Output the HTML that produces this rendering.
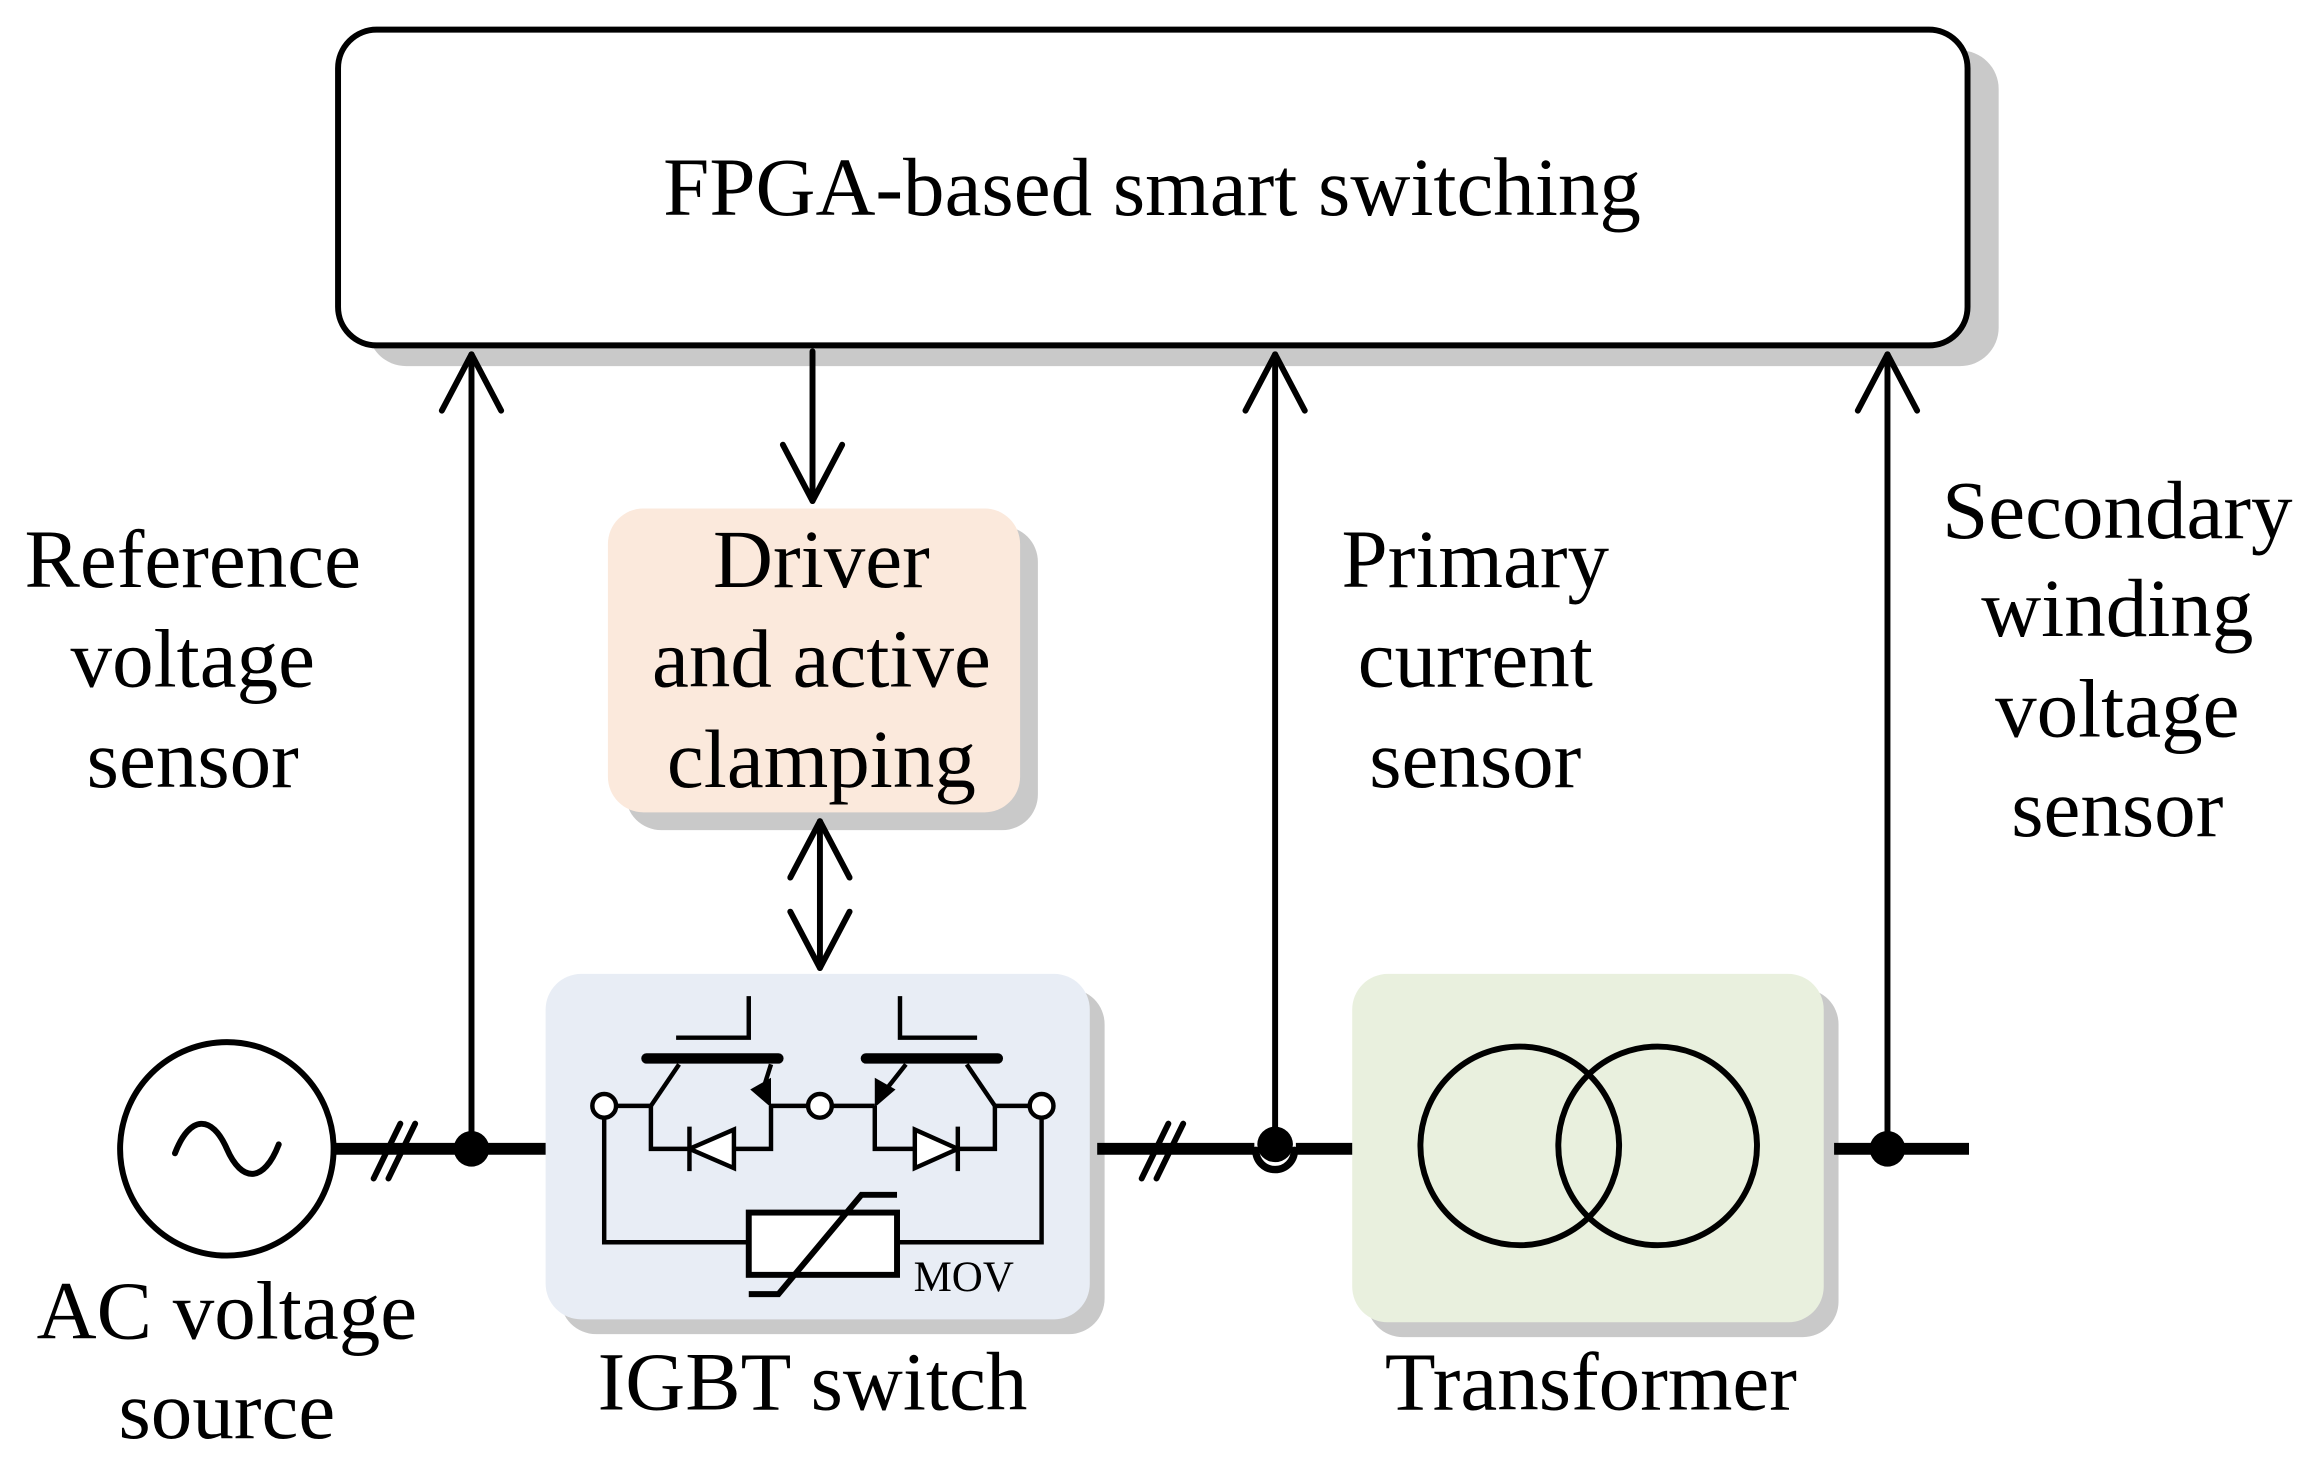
<!DOCTYPE html>
<html><head><meta charset="utf-8"><style>html,body{margin:0;padding:0;background:#fff}svg{display:block}</style></head>
<body>
<svg width="2313" height="1472" viewBox="0 0 1560 993" preserveAspectRatio="none" xmlns="http://www.w3.org/2000/svg" font-family="Liberation Serif, serif">
<g fill="#c9c9c9">
<rect x="248" y="34" width="1100" height="213" rx="26"/>
<rect x="422" y="355" width="278" height="205" rx="24"/>
<rect x="378" y="667" width="367" height="233" rx="24"/>
<rect x="922" y="667" width="318" height="235" rx="24"/>
</g>
<rect x="228" y="20" width="1099" height="213" rx="26" fill="#fff" stroke="#000" stroke-width="4"/>
<rect x="410" y="343" width="278" height="205" rx="24" fill="#fbe9dc"/>
<rect x="368" y="657" width="367" height="233" rx="24" fill="#e8edf5"/>
<rect x="912" y="657" width="318" height="235" rx="24" fill="#e9f0de"/>
<g stroke="#000" stroke-width="4" fill="none" stroke-linecap="round" stroke-linejoin="round">
<line x1="318" y1="775" x2="318" y2="239"/><polyline points="298,277 318,239 338,277"/>
<line x1="860" y1="770" x2="860" y2="239"/><polyline points="840,277 860,239 880,277"/>
<line x1="1273" y1="775" x2="1273" y2="239"/><polyline points="1253,277 1273,239 1293,277"/>
<line x1="548" y1="237" x2="548" y2="338"/><polyline points="528,300 548,338 568,300"/>
<line x1="553" y1="554" x2="553" y2="653"/><polyline points="533,592 553,554 573,592"/><polyline points="533,615 553,653 573,615"/>
<circle cx="153" cy="775" r="72"/>
<path d="M118,778 C128,752 143,752 153,775 C163,798 178,798 188,772"/>
<line x1="252" y1="795" x2="270" y2="758"/><line x1="262" y1="795" x2="280" y2="758"/>
<line x1="770" y1="795" x2="788" y2="758"/><line x1="780" y1="795" x2="798" y2="758"/>
<path d="M847,776 A13,13 0 0 0 873,776" stroke-width="5"/>
<circle cx="1025" cy="773" r="67"/><circle cx="1118" cy="773" r="67"/>
</g>
<g stroke="#000" stroke-width="8">
<line x1="225" y1="775" x2="368" y2="775"/>
<line x1="740" y1="775" x2="846" y2="775"/><line x1="874" y1="775" x2="912" y2="775"/>
<line x1="1237" y1="775" x2="1328" y2="775"/>
</g>
<circle cx="318" cy="775" r="12"/><circle cx="860" cy="772" r="12"/><circle cx="1273" cy="775" r="12"/>
<g stroke="#000" stroke-width="3" fill="none" stroke-linejoin="miter">
<line x1="415" y1="746" x2="439" y2="746"/><line x1="520" y1="746" x2="545" y2="746"/>
<line x1="561" y1="746" x2="590" y2="746"/><line x1="671" y1="746" x2="695" y2="746"/>
<polyline points="456,700 505,700 505,672"/><polyline points="659,700 607,700 607,672"/>
<line x1="458" y1="718" x2="439" y2="746"/><line x1="520" y1="718" x2="514" y2="737"/>
<line x1="611" y1="718" x2="596" y2="737"/><line x1="652" y1="718" x2="671" y2="746"/>
<polyline points="439,746 439,775 520,775 520,746"/>
<polyline points="590,746 590,775 671,775 671,746"/>
<polygon points="465,775 495,762 495,788" fill="#fff"/><line x1="465" y1="760" x2="465" y2="790"/>
<polygon points="646,775 617,762 617,788" fill="#fff"/><line x1="646" y1="760" x2="646" y2="790"/>
<polyline points="407.5,754 407.5,838 505,838"/><polyline points="605,838 702.5,838 702.5,754"/>
<rect x="505" y="818" width="100" height="42" fill="#fff" stroke-width="4"/>
<polyline points="505,873 525,873 581,806 605,806" stroke-width="4"/>
</g>
<g stroke="#000" stroke-width="7" stroke-linecap="round"><line x1="436" y1="714" x2="525" y2="714"/><line x1="584" y1="714" x2="673" y2="714"/></g>
<polygon points="520,747 506,735 520,727"/><polygon points="590,747 604,735 590,727"/>
<g fill="#fff" stroke="#000" stroke-width="3">
<circle cx="407.5" cy="746" r="8"/><circle cx="553" cy="746" r="8"/><circle cx="702.5" cy="746" r="8"/>
</g>
<g font-size="56" text-anchor="middle" fill="#000">
<text x="777" y="145">FPGA-based smart switching</text>
<text x="554" y="396">Driver</text><text x="554" y="463">and active</text><text x="554" y="531">clamping</text>
<text x="130" y="396">Reference</text><text x="130" y="463">voltage</text><text x="130" y="531">sensor</text>
<text x="995" y="396">Primary</text><text x="995" y="463">current</text><text x="995" y="531">sensor</text>
<text x="1428" y="363">Secondary</text><text x="1428" y="429">winding</text><text x="1428" y="497">voltage</text><text x="1428" y="564">sensor</text>
<text x="153" y="903">AC voltage</text><text x="153" y="970">source</text>
<text x="548" y="951">IGBT switch</text>
<text x="1073" y="951">Transformer</text>
<text x="650" y="871" font-size="29">MOV</text>
</g>
</svg>
</body></html>
